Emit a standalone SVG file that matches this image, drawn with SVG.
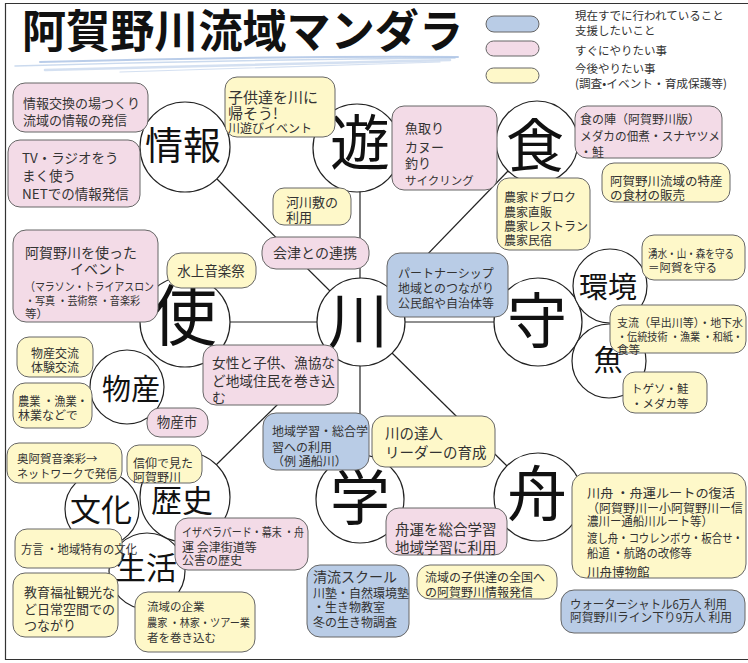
<svg xmlns="http://www.w3.org/2000/svg" width="748" height="663" viewBox="0 0 748 663">
<style>
.t{font-family:"Noto Sans CJK JP","Noto Sans",sans-serif;fill:#333}
.k{font-family:"Noto Sans CJK JP","Noto Sans",sans-serif;fill:#111;text-anchor:middle}
.c{fill:#fff;stroke:#222;stroke-width:1.2}
.b{fill:#b9cce6;stroke:#666;stroke-width:1}
.p{fill:#f3dbe7;stroke:#666;stroke-width:1}
.y{fill:#fef8c9;stroke:#666;stroke-width:1}
.l{stroke:#222;stroke-width:1.2;fill:none}
.m{text-anchor:middle}
</style>
<rect width="748" height="663" fill="#fff"/>
<path d="M748,3.5 H5.5 V659.5 H748" fill="none" stroke="#333" stroke-width="1.2"/>
<g id="title">
<g stroke="#a9c1e3" fill="none" stroke-linecap="round">
<path d="M40,62 Q250,56 458,57" stroke-width="2" opacity="0.8"/>
<path d="M15,66 Q230,60 455,58" stroke-width="1.5" opacity="0.6"/>
<path d="M45,70 Q260,64 450,60" stroke-width="2.5" opacity="0.5"/>
<path d="M120,72 Q300,66 440,62" stroke-width="1.2" opacity="0.5"/>
</g>
<text x="22" y="48" font-size="45" font-weight="bold" textLength="441" lengthAdjust="spacingAndGlyphs" class="t" style="fill:#111">阿賀野川流域マンダラ</text>
</g>
<g id="legend">
<rect x="486" y="16" width="53" height="16" rx="8" class="b"/>
<rect x="486" y="41" width="53" height="15" rx="7.5" class="p"/>
<rect x="486" y="68" width="53" height="15" rx="7.5" class="y"/>
<text class="t" font-size="11.5"><tspan x="575" y="19.5">現在すでに行われていること</tspan><tspan x="575" y="34.5">支援したいこと</tspan><tspan x="575" y="54.5">すぐにやりたい事</tspan><tspan x="575" y="72.5">今後やりたい事</tspan><tspan x="575" y="87.5" textLength="152" lengthAdjust="spacingAndGlyphs">(調査•イベント・育成保護等)</tspan></text>
</g>
<g id="connectors">
<line class="l" x1="217" y1="179" x2="330" y2="291"/>
<line class="l" x1="508" y1="171" x2="392" y2="291"/>
<line class="l" x1="392" y1="353" x2="507" y2="466"/>
<line class="l" x1="330" y1="353" x2="215" y2="466"/>
<line class="l" x1="360" y1="191" x2="360" y2="279"/>
<line class="l" x1="360" y1="365" x2="360" y2="456"/>
<line class="l" x1="229" y1="322" x2="318" y2="322"/>
<line class="l" x1="404" y1="322" x2="495" y2="322"/>
</g>
<g id="c-joho"><circle cx="185" cy="147" r="45" class="c"/><text x="183" y="159" font-size="38" class="k">情報</text></g>
<g id="c-asobu"><circle cx="357" cy="148" r="44" class="c"/><text x="360" y="165" font-size="60" class="k">遊</text></g>
<g id="c-shoku"><circle cx="537" cy="142" r="41" class="c"/><text x="535" y="167" font-size="58" class="k">食</text></g>
<g id="c-kawa"><circle cx="361" cy="322" r="44" class="c"/><text x="358" y="343" font-size="60" class="k">川</text></g>
<g id="c-tsukau"><circle cx="185" cy="322" r="45" class="c"/><text x="184" y="340" font-size="66" class="k">使</text></g>
<g id="c-mamoru"><circle cx="538" cy="322" r="44" class="c"/><text x="537" y="343" font-size="60" class="k">守</text></g>
<g id="c-manabu"><circle cx="360" cy="499" r="44" class="c"/><text x="360" y="520" font-size="60" class="k">学</text></g>
<g id="c-fune"><circle cx="538" cy="497" r="44" class="c"/><text x="537" y="516" font-size="60" class="k">舟</text></g>
<g id="c-bussan"><circle cx="127" cy="387" r="37" class="c"/><text x="131" y="400" font-size="29" class="k">物産</text></g>
<g id="c-kankyo"><circle cx="610" cy="286" r="37" class="c"/><text x="608" y="298" font-size="29" class="k">環境</text></g>
<g id="c-sakana"><circle cx="609" cy="361" r="37" class="c"/><text x="608" y="371" font-size="29" class="k">魚</text></g>
<g id="c-rekishi"><circle cx="185" cy="497" r="45" class="c"/><text x="182" y="512" font-size="31" class="k">歴史</text></g>
<g id="c-bunka"><circle cx="102" cy="509" r="37" class="c"/><text x="101" y="521" font-size="31" class="k">文化</text></g>
<g id="c-seikatsu"><circle cx="147" cy="571" r="38" class="c"/><text x="146" y="579" font-size="31" class="k">生活</text></g>

<g id="n1"><rect x="13" y="83" width="135" height="49" rx="12" class="p"/><text class="t" font-size="13"><tspan x="23" y="108">情報交換の場つくり</tspan><tspan x="23" y="125">流域の情報の発信</tspan></text></g>
<g id="n2"><rect x="8" y="140" width="132" height="67" rx="12" class="p"/><text class="t" font-size="13.5"><tspan x="22" y="163">TV・ラジオをう</tspan><tspan x="22" y="181">まく使う</tspan><tspan x="22" y="199">NETでの情報発信</tspan></text></g>
<g id="n3"><rect x="225" y="77" width="110" height="60" rx="12" class="y"/><text class="t" font-size="15"><tspan x="228" y="103">子供達を川に</tspan><tspan x="228" y="119">帰そう!</tspan><tspan x="228" y="133" font-size="12">川遊びイベント</tspan></text></g>
<g id="n4"><rect x="392" y="106" width="105" height="84" rx="12" class="p"/><text class="t" font-size="13"><tspan x="405" y="133">魚取り</tspan><tspan x="405" y="152">カヌー</tspan><tspan x="405" y="168">釣り</tspan><tspan x="405" y="184.5" font-size="11.5">サイクリング</tspan></text></g>
<g id="n5"><rect x="273" y="188" width="78" height="37" rx="11" class="y"/><text class="t" font-size="13"><tspan x="286" y="207">河川敷の</tspan><tspan x="286" y="222">利用</tspan></text></g>
<g id="n6"><rect x="262" y="237" width="107" height="32" rx="14" class="p"/><text class="t m" x="315" y="258" font-size="14">会津との連携</text></g>
<g id="n7"><rect x="575" y="106" width="147" height="52" rx="12" class="p"/><text class="t" font-size="12"><tspan x="580" y="123.5">食の陣（阿賀野川版）</tspan><tspan x="580" y="140.5" textLength="140" lengthAdjust="spacingAndGlyphs">メダカの佃煮・スナヤツメ</tspan><tspan x="580" y="156.5">・鮭</tspan></text></g>
<g id="n8"><rect x="602" y="163" width="128" height="39" rx="12" class="y"/><text class="t" font-size="12.5"><tspan x="610" y="186">阿賀野川流域の特産</tspan><tspan x="610" y="200">の食材の販売</tspan></text></g>
<g id="n9"><rect x="497" y="178" width="93" height="72" rx="12" class="y"/><text class="t" font-size="12"><tspan x="504" y="201.5">農家ドブロク</tspan><tspan x="504" y="216.5">農家直販</tspan><tspan x="504" y="230.5">農家レストラン</tspan><tspan x="504" y="244.5">農家民宿</tspan></text></g>
<g id="n10"><rect x="387" y="253" width="121" height="64" rx="13" class="b"/><text class="t" font-size="12"><tspan x="398" y="277.5">パートナーシップ</tspan><tspan x="398" y="292.5">地域とのつながり</tspan><tspan x="398" y="307.5">公民館や自治体等</tspan></text></g>
<g id="n11"><rect x="642" y="235" width="103" height="45" rx="12" class="y"/><text class="t" font-size="11.5"><tspan x="648" y="257.5" textLength="86" lengthAdjust="spacingAndGlyphs">湧水・山・森を守る</tspan><tspan x="648" y="271.5">＝阿賀を守る</tspan></text></g>
<g id="n12"><rect x="610" y="305" width="136" height="48" rx="12" class="y"/><text class="t" font-size="11.5"><tspan x="617" y="326.5" textLength="126" lengthAdjust="spacingAndGlyphs">支流（早出川等）・地下水</tspan><tspan x="617" y="340.5" textLength="126" lengthAdjust="spacingAndGlyphs">・伝統技術 ・漁業 ・和紙・</tspan><tspan x="617" y="353.5">食等</tspan></text></g>
<g id="n13"><rect x="623" y="372" width="84" height="41" rx="12" class="y"/><text class="t" font-size="11.5"><tspan x="631" y="392.5">トゲソ・鮭</tspan><tspan x="631" y="407.5">・メダカ等</tspan></text></g>
<g id="n14"><rect x="13" y="230" width="145" height="92" rx="13" class="p"/><text class="t" font-size="14"><tspan x="25" y="258">阿賀野川を使った</tspan><tspan x="70" y="274">イベント</tspan><tspan x="25" y="291" font-size="11.5" textLength="129" lengthAdjust="spacingAndGlyphs">（マラソン・トライアスロン</tspan><tspan x="25" y="304.5" font-size="11.5" textLength="115" lengthAdjust="spacingAndGlyphs">・写真 ・芸術祭 ・音楽彩</tspan><tspan x="25" y="317.5" font-size="11.5">等）</tspan></text></g>
<g id="n15"><rect x="167" y="253" width="89" height="35" rx="14" class="y"/><text class="t m" x="211" y="276" font-size="13.5">水上音楽祭</text></g>
<g id="n16"><rect x="203" y="345" width="135" height="60" rx="13" class="p"/><text class="t" font-size="14"><tspan x="212" y="368" textLength="123" lengthAdjust="spacingAndGlyphs">女性と子供、漁協な</tspan><tspan x="212" y="386" textLength="123" lengthAdjust="spacingAndGlyphs">ど地域住民を巻き込</tspan><tspan x="212" y="403">む</tspan></text></g>
<g id="n17"><rect x="17" y="337" width="76" height="40" rx="12" class="y"/><text class="t m" font-size="12"><tspan x="55" y="357.5">物産交流</tspan><tspan x="55" y="371.5">体験交流</tspan></text></g>
<g id="n18"><rect x="13" y="383" width="79" height="45" rx="12" class="y"/><text class="t" font-size="12"><tspan x="18" y="405.5" textLength="70" lengthAdjust="spacingAndGlyphs">農業 ・漁業・</tspan><tspan x="18" y="419.5">林業などで</tspan></text></g>
<g id="n19"><rect x="147" y="408" width="61" height="29" rx="13" class="p"/><text class="t m" x="177" y="427" font-size="13.5">物産市</text></g>
<g id="n20"><rect x="263" y="413" width="106" height="57" rx="13" class="b"/><text class="t" font-size="12"><tspan x="272" y="435.5">地域学習・総合学</tspan><tspan x="272" y="451.5">習への利用</tspan><tspan x="272" y="465.5">（例 通船川）</tspan></text></g>
<g id="n21"><rect x="372" y="416" width="123" height="51" rx="13" class="y"/><text class="t" font-size="14.5"><tspan x="385" y="438.5">川の達人</tspan><tspan x="385" y="457.5">リーダーの育成</tspan></text></g>
<g id="n22"><rect x="7" y="443" width="115" height="40" rx="12" class="y"/><text class="t" font-size="11.5"><tspan x="17" y="462.5">奥阿賀音楽彩→</tspan><tspan x="17" y="477.5" textLength="100" lengthAdjust="spacingAndGlyphs">ネットワークで発信</tspan></text></g>
<g id="n23"><rect x="127" y="445" width="75" height="38" rx="12" class="y"/><text class="t" font-size="12"><tspan x="133" y="468">信仰で見た</tspan><tspan x="133" y="482">阿賀野川</tspan></text></g>
<g id="n24"><rect x="175" y="518" width="133" height="52" rx="13" class="p"/><text class="t" font-size="12"><tspan x="182" y="536.5" textLength="122" lengthAdjust="spacingAndGlyphs">イザベラバード・幕末 ・舟</tspan><tspan x="182" y="551.5">運 会津街道等</tspan><tspan x="182" y="564.5">公害の歴史</tspan></text></g>
<g id="n25"><rect x="15" y="529" width="107" height="39" rx="12" class="y"/><text class="t" x="21" y="553.5" font-size="12" textLength="116" lengthAdjust="spacingAndGlyphs">方言 ・地域特有の文化</text></g>
<g id="n26"><rect x="13" y="573" width="105" height="64" rx="12" class="y"/><text class="t" font-size="13"><tspan x="24" y="597">教育福祉観光な</tspan><tspan x="24" y="614">ど日常空間での</tspan><tspan x="24" y="630">つながり</tspan></text></g>
<g id="n27"><rect x="135" y="592" width="120" height="60" rx="13" class="y"/><text class="t" font-size="11.5"><tspan x="147" y="610.5">流域の企業</tspan><tspan x="147" y="626.5" textLength="103" lengthAdjust="spacingAndGlyphs">農家 ・林家・ツアー業</tspan><tspan x="147" y="641.5">者を巻き込む</tspan></text></g>
<g id="n28"><rect x="307" y="565" width="102" height="72" rx="13" class="b"/><text class="t" font-size="12"><tspan x="313" y="582" font-size="14">清流スクール</tspan><tspan x="313" y="597.5">川塾・自然環境塾</tspan><tspan x="313" y="611.5">・生き物教室</tspan><tspan x="313" y="626.5">冬の生き物調査</tspan></text></g>
<g id="n29"><rect x="386" y="508" width="121" height="47" rx="13" class="p"/><text class="t" font-size="14.5"><tspan x="395" y="534.5">舟運を総合学習</tspan><tspan x="395" y="552.5">地域学習に利用</tspan></text></g>
<g id="n30"><rect x="417" y="565" width="140" height="34" rx="13" class="y"/><text class="t" font-size="12"><tspan x="425" y="581.5">流域の子供達の全国へ</tspan><tspan x="425" y="596.5">の阿賀野川情報発信</tspan></text></g>
<g id="n31"><rect x="572" y="473" width="174" height="105" rx="14" class="y"/><text class="t" font-size="12.5"><tspan x="587" y="497.5" textLength="148" lengthAdjust="spacingAndGlyphs">川舟 ・舟運ルートの復活</tspan><tspan x="587" y="512.5" textLength="156" lengthAdjust="spacingAndGlyphs">（阿賀野川ー小阿賀野川ー信</tspan><tspan x="587" y="525.5" textLength="126" lengthAdjust="spacingAndGlyphs">濃川ー通船川ルート等）</tspan><tspan x="587" y="542.5" textLength="156" lengthAdjust="spacingAndGlyphs">渡し舟・コウレンボウ・板合せ・</tspan><tspan x="587" y="557.5" textLength="105" lengthAdjust="spacingAndGlyphs">船道 ・航路の改修等</tspan><tspan x="587" y="576.5">川舟博物館</tspan></text></g>
<g id="n32"><rect x="561" y="590" width="184" height="43" rx="13" class="b"/><text class="t" font-size="12"><tspan x="570" y="608.5" textLength="157" lengthAdjust="spacingAndGlyphs">ウォーターシャトル6万人 利用</tspan><tspan x="570" y="622" textLength="162" lengthAdjust="spacingAndGlyphs">阿賀野川ライン下り9万人 利用</tspan></text></g>
</svg>
